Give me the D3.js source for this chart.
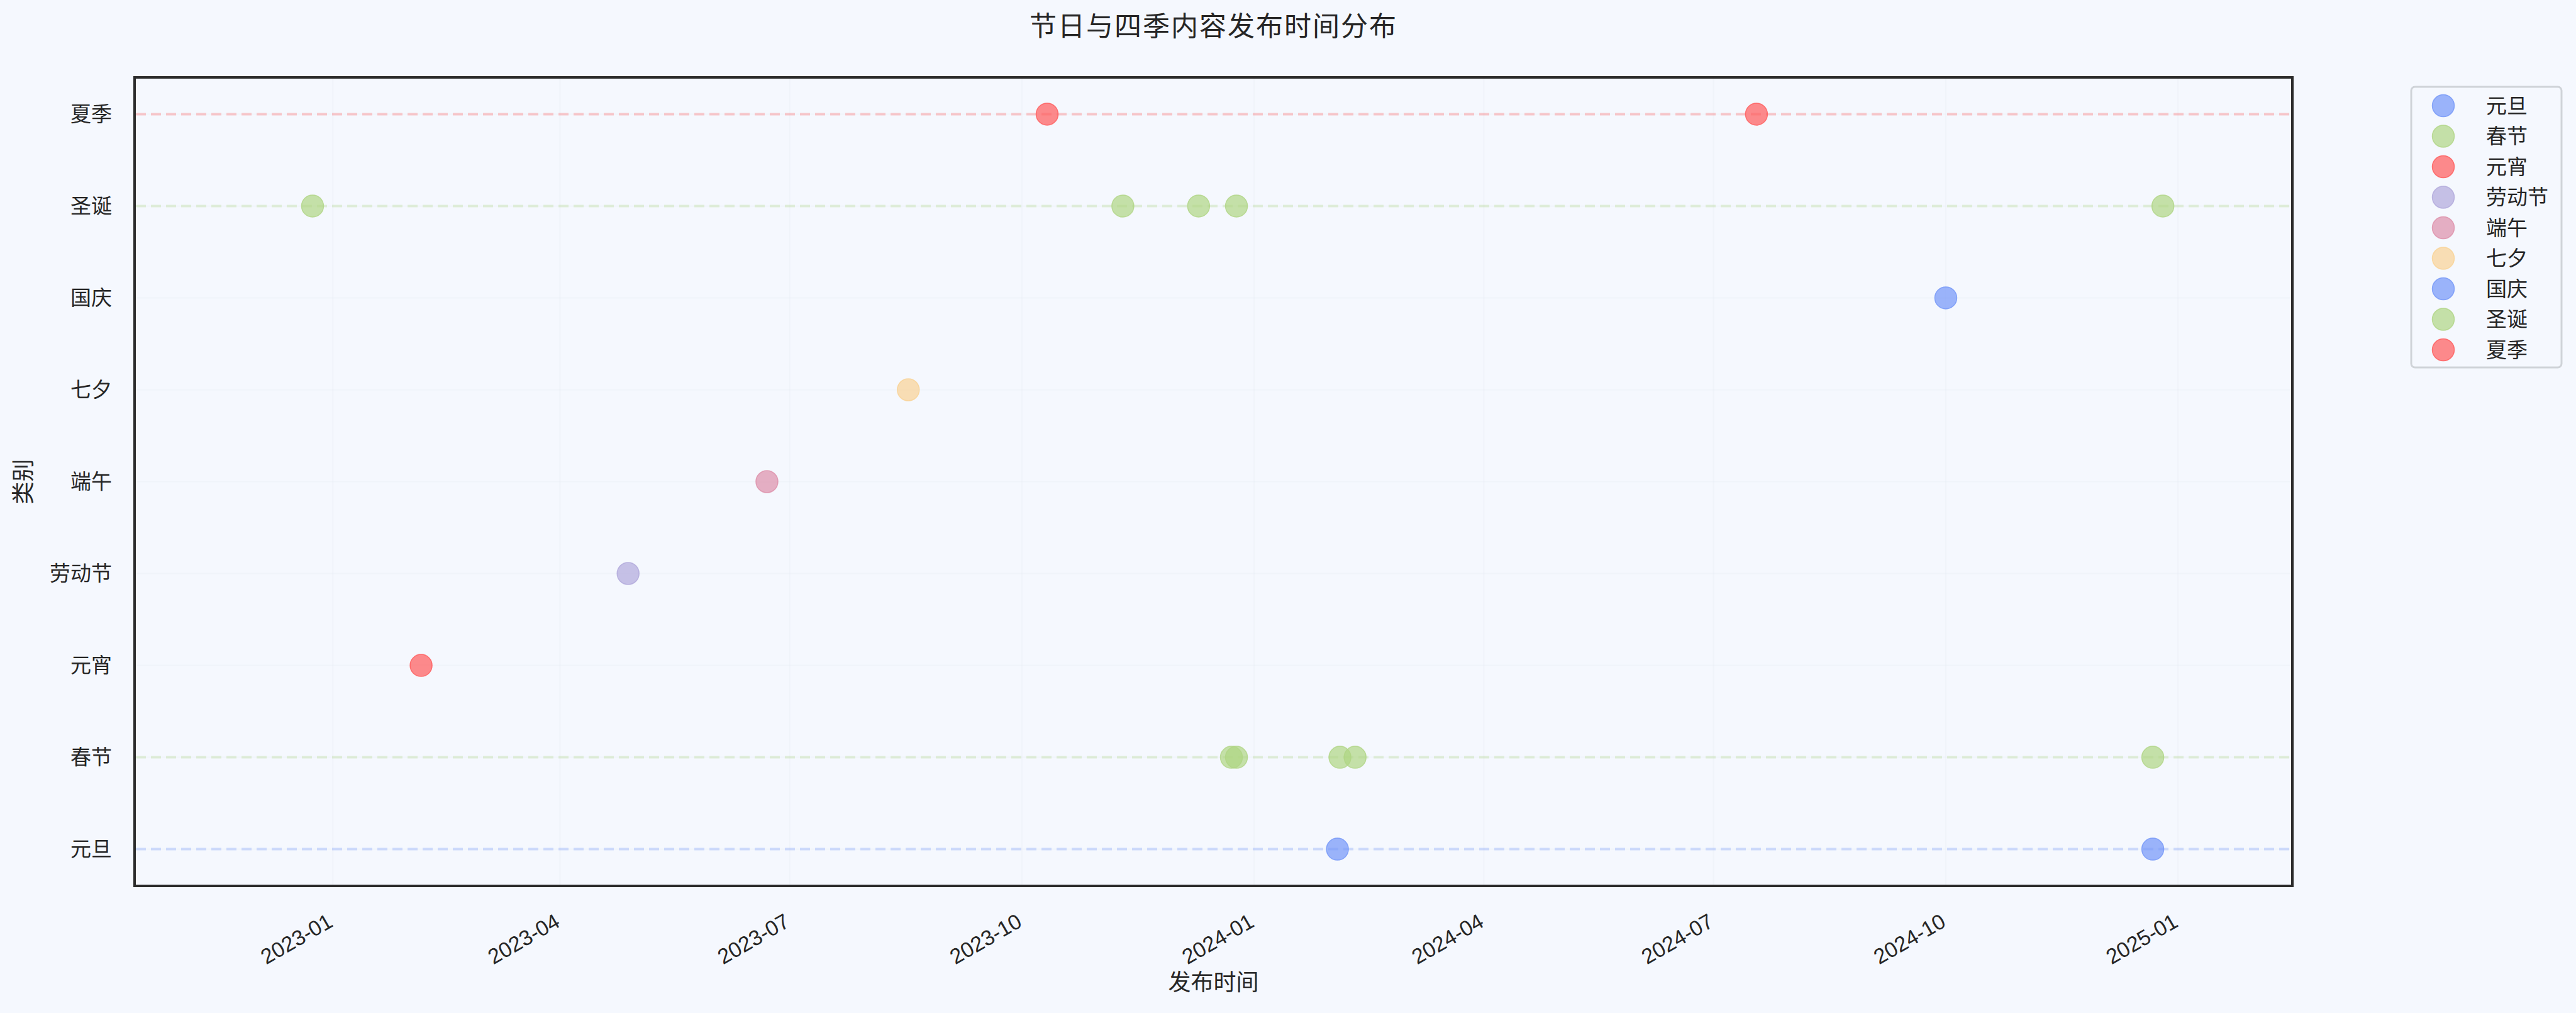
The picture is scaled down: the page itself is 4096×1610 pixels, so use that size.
<!DOCTYPE html>
<html>
<head>
<meta charset="utf-8">
<script src="https://cdn.jsdelivr.net/npm/d3@7/dist/d3.min.js"></script>
<style>
  html, body { margin: 0; padding: 0; background: #f5f8fe; }
  svg { display: block; font-family: "Liberation Sans", "Noto Sans CJK SC", sans-serif; }
</style>
</head>
<body>
<svg id="chart" width="4096" height="1610"></svg>
<script>
// categories, bottom to top
var categories = ['元旦', '春节', '元宵', '劳动节', '端午', '七夕', '国庆', '圣诞', '夏季'];
var colors = ['#7396f8', '#afd583', '#ff5a5a', '#b0a8db', '#dd8fa9', '#f9d294', '#7396f8', '#afd583', '#ff5a5a'];

// publish dates per category
var dates = {
    '元旦': ['2024-02-03', '2024-12-22'],
    '春节': ['2023-12-23', '2023-12-25', '2024-02-04', '2024-02-10', '2024-12-22'],
    '元宵': ['2023-02-05'],
    '劳动节': ['2023-04-28'],
    '端午': ['2023-06-22'],
    '七夕': ['2023-08-17'],
    '国庆': ['2024-10-01'],
    '圣诞': ['2022-12-24', '2023-11-10', '2023-12-10', '2023-12-25', '2024-12-26'],
    '夏季': ['2023-10-11', '2024-07-18']
};

var xDomain = [new Date(2022, 9, 14, 12), new Date(2025, 1, 15, 7)];
var tickDates = ['2023-01', '2023-04', '2023-07', '2023-10', '2024-01', '2024-04', '2024-07', '2024-10', '2025-01'];

var title = '节日与四季内容发布时间分布';
var xLabel = '发布时间';
var yLabel = '类别';

;(function() {
    var svg = d3.select('#chart');
    var left = 214, right = 3645, top = 123, bottom = 1408;
    var parse = d3.timeParse('%Y-%m-%d');
    var parseMonth = d3.timeParse('%Y-%m');

    var x = d3.scaleTime().domain(xDomain).range([left, right]);
    var y = d3.scalePoint().domain(categories).range([bottom, top]).padding(0.4);
    var color = d3.scaleOrdinal().domain(categories).range(colors);

    svg.append('rect')
        .attr('width', 4096).attr('height', 1610)
        .attr('fill', '#f5f8fe');

    // faint grid
    var ticks = tickDates.map(parseMonth);
    var grid = svg.append('g');
    grid.selectAll('.vg').data(ticks).enter().append('line')
        .attr('x1', function(d) { return x(d); })
        .attr('x2', function(d) { return x(d); })
        .attr('y1', top).attr('y2', bottom)
        .style('stroke', '#e6ebf4').style('stroke-width', 2).style('opacity', 0.3);
    grid.selectAll('.hg').data(categories).enter().append('line')
        .attr('x1', left).attr('x2', right)
        .attr('y1', function(d) { return y(d); })
        .attr('y2', function(d) { return y(d); })
        .style('stroke', '#e6ebf4').style('stroke-width', 2).style('opacity', 0.3);

    // dashed guides for categories with several dates
    svg.append('g').selectAll('line')
        .data(categories.filter(function(c) { return dates[c].length > 1; }))
        .enter().append('line')
        .attr('x1', left + 2).attr('x2', right - 2)
        .attr('y1', function(d) { return y(d); })
        .attr('y2', function(d) { return y(d); })
        .style('stroke', function(d) { return color(d); })
        .style('stroke-opacity', 0.3)
        .style('stroke-width', 4)
        .style('stroke-dasharray', '16,8');

    // points
    var pts = [];
    categories.forEach(function(c) {
        dates[c].forEach(function(s) { pts.push({ cat: c, date: parse(s) }); });
    });
    svg.append('g').selectAll('circle').data(pts).enter().append('circle')
        .attr('cx', function(d) { return x(d.date); })
        .attr('cy', function(d) { return y(d.cat); })
        .attr('r', 17.5)
        .style('fill', function(d) { return color(d.cat); })
        .style('fill-opacity', 0.7)
        .style('stroke', function(d) { return color(d.cat); })
        .style('stroke-opacity', 0.8)
        .style('stroke-width', 1.5);

    // frame
    svg.append('rect')
        .attr('x', left).attr('y', top)
        .attr('width', right - left).attr('height', bottom - top)
        .style('fill', 'none').style('stroke', '#2b2b2b').style('stroke-width', 4);

    // y tick labels
    svg.append('g').selectAll('text').data(categories).enter().append('text')
        .attr('x', left - 36)
        .attr('y', function(d) { return y(d); })
        .attr('dy', '0.35em')
        .attr('text-anchor', 'end')
        .style('font-size', '33px').style('fill', '#262626')
        .text(function(d) { return d; });

    // x tick labels, rotated
    var fmt = d3.timeFormat('%Y-%m');
    svg.append('g').selectAll('text').data(ticks).enter().append('text')
        .attr('transform', function(d) { return 'translate(' + (x(d) - 10) + ',1450) rotate(-30)'; })
        .attr('dy', '0.72em')
        .attr('text-anchor', 'end')
        .style('font-size', '34px').style('fill', '#262626')
        .text(function(d) { return fmt(d); });

    // axis labels and title
    svg.append('text')
        .attr('x', (left + right) / 2).attr('y', 1574)
        .attr('text-anchor', 'middle')
        .style('font-size', '36px').style('fill', '#262626')
        .text(xLabel);
    svg.append('text')
        .attr('transform', 'translate(50,' + ((top + bottom) / 2) + ') rotate(-90)')
        .attr('text-anchor', 'middle')
        .style('font-size', '36px').style('fill', '#262626')
        .text(yLabel);
    svg.append('text')
        .attr('x', (left + right) / 2).attr('y', 57)
        .attr('text-anchor', 'middle')
        .style('font-size', '43px').style('fill', '#262626')
        .style('letter-spacing', '2px')
        .text(title);

    // legend
    var lg = svg.append('g');
    lg.append('rect')
        .attr('x', 3834).attr('y', 138)
        .attr('width', 239).attr('height', 446)
        .attr('rx', 6)
        .style('fill', '#f5f8fe').style('stroke', '#cfd3d8').style('stroke-width', 3);
    var rows = lg.selectAll('g').data(categories).enter().append('g')
        .attr('transform', function(d, i) { return 'translate(0,' + (168 + i * 48.5) + ')'; });
    rows.append('circle')
        .attr('cx', 3885).attr('cy', 0).attr('r', 17.5)
        .style('fill', function(d) { return color(d); })
        .style('fill-opacity', 0.7)
        .style('stroke', function(d) { return color(d); })
        .style('stroke-opacity', 0.8)
        .style('stroke-width', 1.5);
    rows.append('text')
        .attr('x', 3953).attr('y', 0).attr('dy', '0.35em')
        .style('font-size', '33px').style('fill', '#262626')
        .text(function(d) { return d; });
})();
</script>
</body>
</html>
